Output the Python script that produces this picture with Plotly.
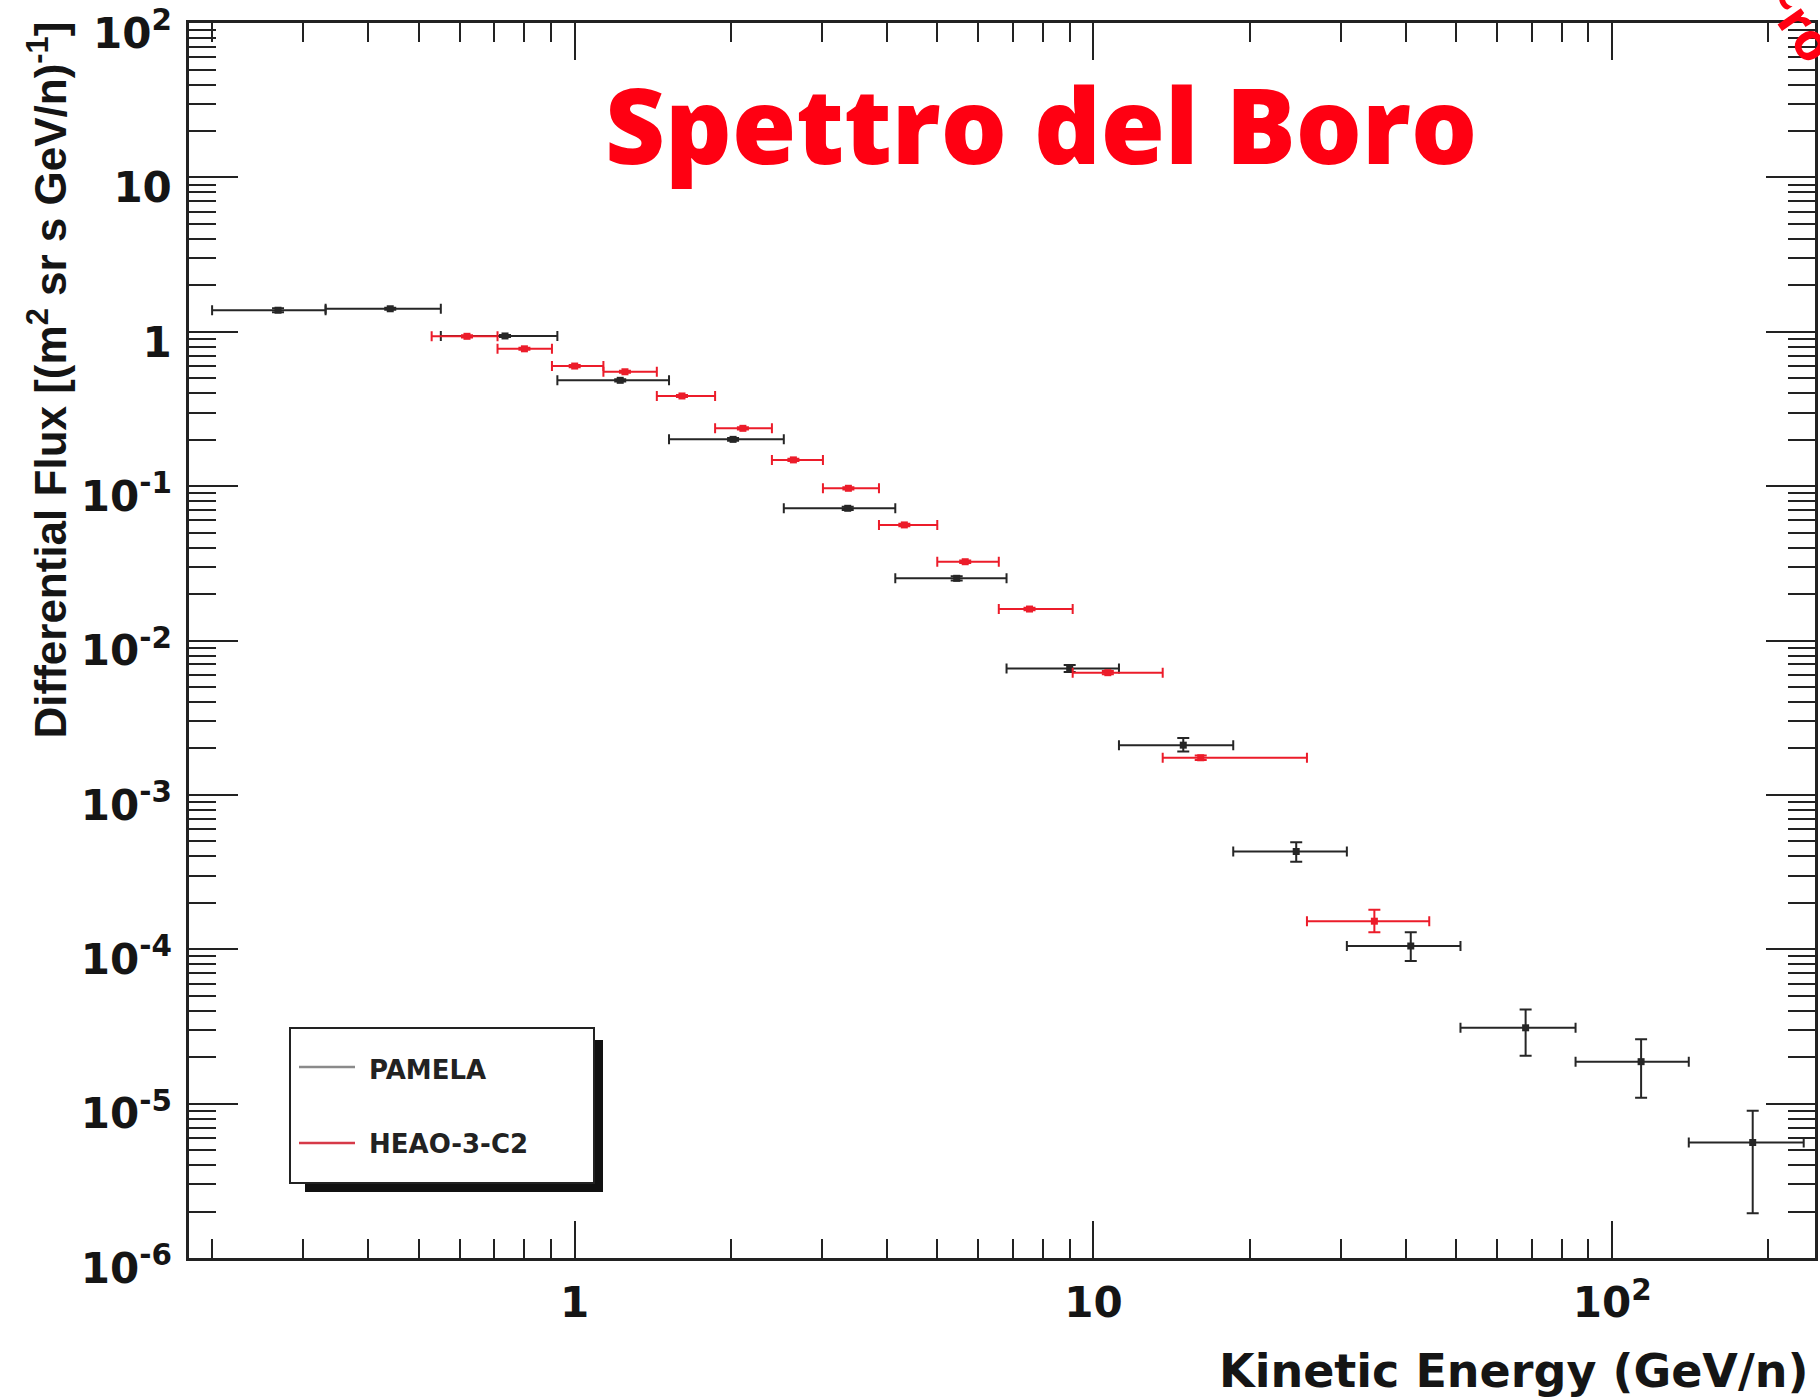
import plotly.graph_objects as go

# ---------------- data ----------------
# PAMELA boron flux: bin centre, bin edges, flux and asymmetric errors
pamela_energy = [0.268, 0.441, 0.734, 1.224, 2.02, 3.36, 5.45, 9.0, 14.9, 24.6, 40.9, 68.1, 113.7, 186.6]
pamela_e_low = [0.200, 0.331, 0.552, 0.926, 1.52, 2.53, 4.15, 6.80, 11.2, 18.6, 30.8, 51.0, 85.0, 140.5]
pamela_e_high = [0.331, 0.552, 0.926, 1.52, 2.53, 4.15, 6.80, 11.2, 18.6, 30.8, 51.0, 85.0, 140.5, 234.0]
pamela_flux = [1.38, 1.41, 0.94, 0.485, 0.201, 0.0719, 0.0253, 0.0066, 0.0021, 4.3e-4, 1.05e-4, 3.1e-5, 1.87e-5, 5.6e-6]
pamela_err_up = [0.04, 0.02, 0.015, 0.008, 0.004, 0.0017, 0.0008, 0.00035, 0.00024, 0.64e-4, 2.4e-5, 0.97e-5, 0.74e-5, 3.4e-6]
pamela_err_dn = [0.04, 0.02, 0.015, 0.008, 0.004, 0.0017, 0.0008, 0.00035, 0.00019, 0.61e-4, 2.1e-5, 1.06e-5, 0.78e-5, 3.65e-6]

# HEAO-3-C2 boron flux
heao_energy = [0.62, 0.80, 1.00, 1.25, 1.61, 2.11, 2.64, 3.37, 4.32, 5.66, 7.53, 10.66, 16.1, 34.8]
heao_e_low = [0.53, 0.71, 0.904, 1.136, 1.44, 1.865, 2.40, 3.01, 3.86, 5.00, 6.57, 9.12, 13.6, 25.8]
heao_e_high = [0.71, 0.904, 1.136, 1.44, 1.865, 2.40, 3.01, 3.86, 5.00, 6.57, 9.12, 13.6, 25.8, 44.4]
heao_flux = [0.935, 0.776, 0.600, 0.551, 0.384, 0.237, 0.148, 0.0969, 0.0561, 0.0324, 0.0160, 0.00619, 0.00174, 1.52e-4]
heao_err_up = [0.015, 0.012, 0.010, 0.009, 0.006, 0.004, 0.0025, 0.0016, 0.001, 0.0006, 0.0003, 0.00015, 0.00006, 0.28e-4]
heao_err_dn = [0.015, 0.012, 0.010, 0.009, 0.006, 0.004, 0.0025, 0.0016, 0.001, 0.0006, 0.0003, 0.00015, 0.00006, 0.23e-4]

# axis ticks
x_major = [1, 10, 100]
x_major_text = ["1", "10", "10<sup>2</sup>"]
y_major = [1e2, 1e1, 1, 1e-1, 1e-2, 1e-3, 1e-4, 1e-5, 1e-6]
y_major_text = ["10<sup>2</sup>", "10", "1", "10<sup>-1</sup>", "10<sup>-2</sup>",
                "10<sup>-3</sup>", "10<sup>-4</sup>", "10<sup>-5</sup>", "10<sup>-6</sup>"]
x_minor = [m * 10 ** e for e in (-1, 0, 1) for m in range(2, 10)] + [200]
y_minor = [m * 10.0 ** e for e in range(-6, 2) for m in range(2, 10)]

BLACK = "#262626"
RED = "#ec1c2a"
AXIS = "#222222"

fig = go.Figure()


def add_series(energy, e_low, e_high, flux, err_up, err_dn, color, name):
    fig.add_trace(go.Scatter(
        x=energy, y=flux, mode="markers", name=name, showlegend=False,
        marker=dict(symbol="square", size=7, color=color),
        error_x=dict(type="data", symmetric=False,
                     array=[h - c for c, h in zip(energy, e_high)],
                     arrayminus=[c - l for c, l in zip(energy, e_low)],
                     color=color, thickness=2, width=5),
        error_y=dict(type="data", symmetric=False, array=err_up, arrayminus=err_dn,
                     color=color, thickness=2, width=6),
    ))


add_series(pamela_energy, pamela_e_low, pamela_e_high, pamela_flux,
           pamela_err_up, pamela_err_dn, BLACK, "PAMELA")
add_series(heao_energy, heao_e_low, heao_e_high, heao_flux,
           heao_err_up, heao_err_dn, RED, "HEAO-3-C2")

# plot-area geometry in pixels
W, H = 1820, 1397
L, R, T, B = 189, 1815, 23, 1258


def px(x):
    return (x - L) / (R - L)


def py(y):
    return (B - y) / (B - T)


tick_font = dict(family="DejaVu Sans", size=42, color="#151515", weight="bold")

fig.update_xaxes(
    type="log", range=[-0.7435, 2.391], autorange=False,
    tickmode="array", tickvals=x_major, ticktext=x_major_text,
    ticks="inside", ticklen=37, tickwidth=2, tickcolor=AXIS,
    showline=True, linewidth=2.5, linecolor=AXIS, mirror="allticks",
    showgrid=False, zeroline=False, automargin=False,
    tickfont=tick_font, ticklabelstandoff=6, ticklabeloverflow="allow",
    minor=dict(tickmode="array", tickvals=x_minor, ticks="inside", ticklen=19,
               tickwidth=2, tickcolor=AXIS, showgrid=False),
)
fig.update_yaxes(
    type="log", range=[-6, 2.0005], autorange=False,
    tickmode="array", tickvals=y_major, ticktext=y_major_text,
    ticks="inside", ticklen=49, tickwidth=2, tickcolor=AXIS,
    showline=True, linewidth=2.5, linecolor=AXIS, mirror="allticks",
    showgrid=False, zeroline=False, automargin=False,
    tickfont=tick_font, ticklabelstandoff=6, ticklabelshift=10,
    ticklabeloverflow="allow",
    minor=dict(tickmode="array", tickvals=y_minor, ticks="inside", ticklen=27,
               tickwidth=2, tickcolor=AXIS, showgrid=False),
)

annotations = [
    dict(text="Spettro del Boro", x=px(1041), y=py(124), xanchor="center", yanchor="middle",
         font=dict(family="Open Sans", size=104, color="#ff0012", weight=800)),
    dict(text="Differential Flux [(m<sup>2</sup> sr s GeV/n)<sup>-1</sup>]",
         textangle=-90, x=px(47), y=py(20), xanchor="center", yanchor="top",
         font=dict(family="Liberation Sans", size=44, color="#151515", weight="bold")),
    dict(text="Kinetic Energy (GeV/n)", x=px(1811), y=py(1371), xanchor="right", yanchor="middle",
         font=dict(family="DejaVu Sans", size=46, color="#151515", weight="bold")),
    dict(text="PAMELA", x=px(367), y=py(1070), xanchor="left", yanchor="middle",
         font=dict(family="DejaVu Sans", size=26, color="#222222", weight="bold")),
    dict(text="HEAO-3-C2", x=px(367), y=py(1144), xanchor="left", yanchor="middle",
         font=dict(family="DejaVu Sans", size=26, color="#222222", weight="bold")),
    dict(text="~ro", x=px(1800), y=py(20), xanchor="center", yanchor="middle", textangle=55,
         font=dict(family="Open Sans", size=52, color="#ff0012", weight="bold")),
]
for a in annotations:
    a.update(xref="paper", yref="paper", showarrow=False)

shapes = [
    # legend drop shadow
    dict(type="rect", x0=px(594), x1=px(603), y0=py(1040), y1=py(1192),
         fillcolor="#111111", line=dict(width=0)),
    dict(type="rect", x0=px(305), x1=px(603), y0=py(1183), y1=py(1192),
         fillcolor="#111111", line=dict(width=0)),
    # legend box
    dict(type="rect", x0=px(290), x1=px(594), y0=py(1028), y1=py(1183),
         fillcolor="white", line=dict(color="#222222", width=2)),
    # legend samples
    dict(type="line", x0=px(299), x1=px(355), y0=py(1067), y1=py(1067),
         line=dict(color="#8a8a8a", width=2.5)),
    dict(type="line", x0=px(299), x1=px(355), y0=py(1143), y1=py(1143),
         line=dict(color="#d63a48", width=2.5)),
]
for s in shapes:
    s.update(xref="paper", yref="paper", layer="above")

fig.update_layout(
    width=W, height=H,
    margin=dict(l=L, r=W - R, t=T, b=H - B, pad=0),
    paper_bgcolor="white", plot_bgcolor="white",
    showlegend=False,
    annotations=annotations, shapes=shapes,
)

fig.write_html("out.html")
